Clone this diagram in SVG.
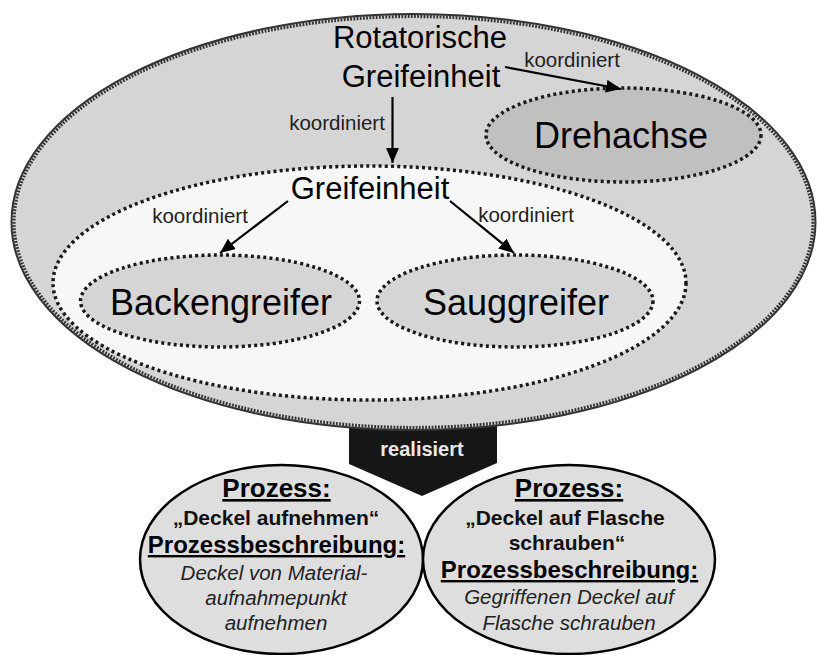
<svg xmlns="http://www.w3.org/2000/svg" width="817" height="655" viewBox="0 0 817 655">
  <defs>
    <marker id="arrow" markerUnits="userSpaceOnUse" markerWidth="16" markerHeight="14" refX="15" refY="6.5" orient="auto">
      <path d="M0,0 L15,6.5 L0,13 Z" fill="#000"/>
    </marker>
    <style>
      text { font-family: "Liberation Sans", Arial, sans-serif; fill: #000; text-anchor: middle; }
      .big { font-size: 31px; }
      .huge { font-size: 36px; }
      .lbl { font-size: 20.5px; fill: #222; }
      .dotted { stroke: #1a1a1a; stroke-width: 3.5; stroke-dasharray: 3 3.2; }
      .conn { stroke: #000; stroke-width: 2.2; fill: none; marker-end: url(#arrow); }
      .proc { fill: #dedede; stroke: #000; stroke-width: 2.5; }
      .h1 { font-size: 26px; font-weight: bold; text-decoration: underline; }
      .h2 { font-size: 24px; font-weight: bold; text-decoration: underline; }
      .b { font-size: 21px; font-weight: bold; fill: #111; }
      .it { font-size: 20.5px; font-style: italic; fill: #222; }
    </style>
  </defs>

  <rect width="817" height="655" fill="#fff"/>

  <!-- "realisiert" block arrow, sits behind the outer ellipse -->
  <g id="realisiert">
    <path d="M349,415 L497,415 L497,463 L422,496 L349,464 Z" fill="#161616"/>
    <text x="422" y="456" style="font-size:20px;font-weight:bold;fill:#e8e8e8">realisiert</text>
  </g>

  <!-- Rotatorische Greifeinheit (outer) -->
  <g id="rotatorische-greifeinheit">
    <ellipse cx="413.5" cy="222" rx="402" ry="208" fill="#d5d5d5" stroke="#333" stroke-width="2"/>
    <ellipse cx="413.5" cy="222" rx="399.5" ry="205.5" fill="none" stroke="#333" stroke-width="3.2" stroke-dasharray="1.8 1.4"/>
    <text class="big" x="420" y="48">Rotatorische</text>
    <text class="big" x="421" y="87">Greifeinheit</text>
  </g>

  <!-- Drehachse -->
  <g id="drehachse">
    <ellipse class="dotted" cx="623.5" cy="135" rx="137.5" ry="47" fill="#c0c0c0"/>
    <text class="huge" x="621" y="148">Drehachse</text>
  </g>

  <!-- Greifeinheit -->
  <g id="greifeinheit">
    <ellipse class="dotted" cx="369.5" cy="283" rx="316.5" ry="117" fill="#f7f7f7"/>
    <text class="big" x="370" y="199">Greifeinheit</text>
  </g>

  <!-- Backengreifer -->
  <g id="backengreifer">
    <ellipse class="dotted" cx="220" cy="301" rx="139.5" ry="46" fill="#d5d5d5"/>
    <text class="huge" x="221" y="315">Backengreifer</text>
  </g>

  <!-- Sauggreifer -->
  <g id="sauggreifer">
    <ellipse class="dotted" cx="515" cy="301" rx="138" ry="46" fill="#d5d5d5"/>
    <text class="huge" x="516" y="315">Sauggreifer</text>
  </g>

  <!-- coordination connectors -->
  <g id="connectors">
    <line class="conn" x1="392.5" y1="97" x2="392.5" y2="163"/>
    <line class="conn" x1="505" y1="67" x2="621" y2="89"/>
    <line class="conn" x1="288" y1="201" x2="220" y2="253"/>
    <line class="conn" x1="450" y1="201" x2="514" y2="253"/>
    <text class="lbl" x="337" y="130">koordiniert</text>
    <text class="lbl" x="572" y="67">koordiniert</text>
    <text class="lbl" x="200" y="223">koordiniert</text>
    <text class="lbl" x="526" y="222">koordiniert</text>
  </g>

  <!-- Process: Deckel aufnehmen -->
  <g id="prozess-deckel-aufnehmen">
    <ellipse class="proc" cx="281.5" cy="559.5" rx="141.5" ry="94.5"/>
    <text class="h1" x="276.5" y="497">Prozess:</text>
    <text class="b" x="276" y="525">„Deckel aufnehmen“</text>
    <text class="h2" x="276.5" y="553">Prozessbeschreibung:</text>
    <text class="it" x="274" y="580">Deckel von Material-</text>
    <text class="it" x="276" y="605">aufnahmepunkt</text>
    <text class="it" x="276" y="630">aufnehmen</text>
  </g>

  <!-- Process: Deckel auf Flasche schrauben -->
  <g id="prozess-deckel-schrauben">
    <ellipse class="proc" cx="569" cy="559.5" rx="146" ry="94.5"/>
    <text class="h1" x="569" y="497">Prozess:</text>
    <text class="b" x="565" y="525">„Deckel auf Flasche</text>
    <text class="b" x="567" y="550">schrauben“</text>
    <text class="h2" x="569.5" y="578">Prozessbeschreibung:</text>
    <text class="it" x="569" y="604">Gegriffenen Deckel auf</text>
    <text class="it" x="569" y="630">Flasche schrauben</text>
  </g>
</svg>
